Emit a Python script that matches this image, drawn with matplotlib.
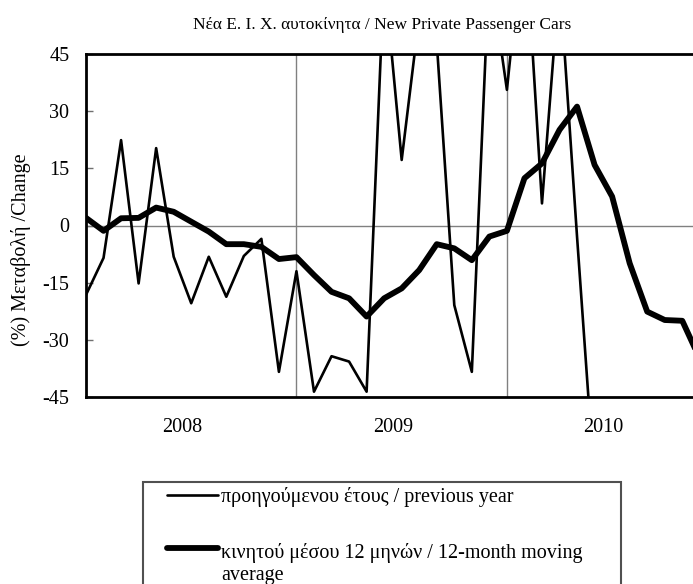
import numpy as np
import matplotlib
matplotlib.use('Agg')
from matplotlib import pyplot as plt
from matplotlib.lines import Line2D
from matplotlib.patches import Rectangle

plt.rcParams['font.family'] = ['Liberation Serif', 'DejaVu Serif']

# monthly data, Jan 2008 .. Dec 2010
yoy = [-18.2, -8.5, 22.4, -15.2, 20.3, -8.2, -20.4, -8.2, -18.7, -8.0, -3.5, -38.4,
       -12.0, -43.6, -34.3, -35.7, -43.6, 66.0, 17.2, 55.0, 48.0, -20.9, -38.4, 68.0,
       35.6, 80.0, 5.8, 65.0, -3.0, -68.0, -58.0, -62.0, -55.0, -60.0, -52.0, -50.0]
ma12 = [2.0, -1.4, 1.9, 2.0, 4.7, 3.6, 1.0, -1.6, -4.9, -4.9, -5.6, -8.8,
        -8.3, -13.0, -17.4, -19.1, -23.9, -19.1, -16.5, -11.7, -4.9, -6.0, -9.1, -2.9,
        -1.4, 12.4, 16.3, 25.1, 31.2, 15.9, 7.6, -9.9, -22.6, -24.8, -25.0, -35.0]
years = ['2008', '2009', '2010']
yticks = [45, 30, 15, 0, -15, -30, -45]
labels = ['προηγούμενου έτους / previous year',
          'κινητού μέσου 12 μηνών / 12-month moving\naverage']

def main():
    W, H = 693, 584
    fig = plt.figure(figsize=(W/100, H/100), dpi=100)
    ax = fig.add_axes([86/W, 1-397/H, 1-86/W + 0.002, (397-54)/H])
    x = np.arange(len(yoy))

    ax.axhline(0, color='#808080', lw=1, zorder=1)
    for b in [12, 24]:
        ax.axvline(b, color='#808080', lw=1, zorder=1)

    ax.plot(x, yoy, color='black', lw=1.9, zorder=3)
    ax.plot(x, ma12, color='black', lw=4.2, zorder=4)

    ax.set_xlim(0, 34.69)
    ax.set_ylim(-45, 45)
    ax.set_yticks(yticks)
    ax.set_yticklabels([str(t) for t in yticks])
    ax.set_xticks([5.5, 17.5, 29.5])
    ax.set_xticklabels(years)
    ax.tick_params(axis='y', direction='in', length=5, width=1, color='#707070',
                   labelsize=14.5, pad=12)
    ax.tick_params(axis='x', length=0, labelsize=14.5, pad=15)
    for s in ['left', 'bottom', 'top']:
        ax.spines[s].set_linewidth(2)
        ax.spines[s].set_color('black')
    ax.spines['right'].set_visible(False)

    fig.text(382/W, 1-25/H, 'Νέα Ε. Ι. Χ. αυτοκίνητα / New Private Passenger Cars',
             ha='center', va='center', fontsize=12.5)
    fig.text(21/W, 1-250/H, '(%) Μεταβολή /Change', rotation=90,
             ha='center', va='center', fontsize=14.5)

    # legend drawn by hand (box runs off the bottom edge)
    fig.add_artist(Rectangle((143/W, -0.05), (621-143)/W, 0.05 + 1-482/H,
                             transform=fig.transFigure, fill=False,
                             edgecolor='#505050', lw=1.5))
    for lab, lw, yh, yb in zip(labels, [1.9, 4.2], [495, 548], [502, 558]):
        fig.add_artist(Line2D([167/W, 218/W], [1-yh/H, 1-yh/H],
                              transform=fig.transFigure, color='black', lw=lw,
                              solid_capstyle='round'))
        for k, line in enumerate(lab.split('\n')):
            fig.text(221/W, 1-(yb + 22*k)/H, line, ha='left', va='baseline',
                     fontsize=14.5)

    plt.savefig('out.png', dpi=100)

if __name__ == '__main__':
    main()
